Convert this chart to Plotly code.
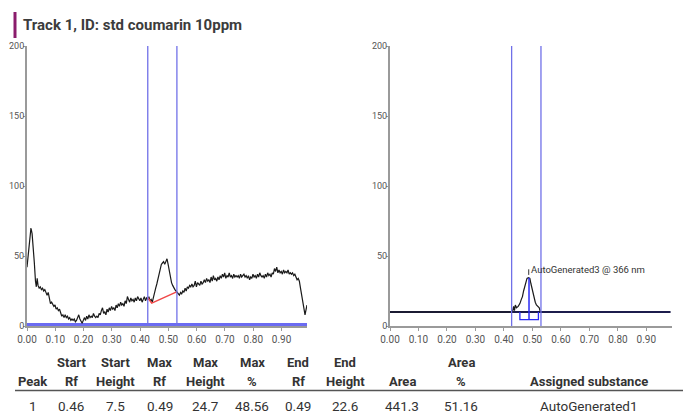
import plotly.graph_objects as go

# page body has an 8px margin; figure sized to fit the window exactly
OFF = 8
W, H = 698 - OFF, 416 - OFF

# ---------------- data ----------------
scan_rf = [0.000, 0.005, 0.010, 0.014, 0.018, 0.022, 0.026, 0.030, 0.033, 0.036, 0.039, 0.043, 0.047, 0.051,
           0.055, 0.059, 0.063, 0.067, 0.071, 0.075, 0.079, 0.083, 0.087, 0.091, 0.095, 0.099, 0.103, 0.107,
           0.111, 0.115, 0.119, 0.123, 0.127, 0.131, 0.135, 0.139, 0.143, 0.147, 0.151, 0.155, 0.159, 0.163,
           0.167, 0.171, 0.175, 0.179, 0.183, 0.187, 0.191, 0.195, 0.199, 0.203, 0.207, 0.211, 0.215, 0.219,
           0.223, 0.227, 0.231, 0.235, 0.239, 0.243, 0.247, 0.251, 0.255, 0.259, 0.263, 0.267, 0.271, 0.275,
           0.279, 0.283, 0.287, 0.291, 0.295, 0.299, 0.303, 0.307, 0.311, 0.315, 0.319, 0.323, 0.327, 0.331,
           0.335, 0.339, 0.343, 0.347, 0.351, 0.355, 0.359, 0.363, 0.367, 0.371, 0.375, 0.379, 0.383, 0.387,
           0.391, 0.395, 0.399, 0.403, 0.407, 0.411, 0.415, 0.419, 0.423, 0.427, 0.431, 0.435, 0.439, 0.443,
           0.447, 0.451, 0.455, 0.459, 0.463, 0.467, 0.471, 0.475, 0.479, 0.483, 0.487, 0.491, 0.495, 0.499,
           0.503, 0.507, 0.511, 0.515, 0.519, 0.523, 0.527, 0.531, 0.535, 0.539, 0.543, 0.547, 0.551, 0.555,
           0.559, 0.563, 0.567, 0.571, 0.575, 0.579, 0.583, 0.587, 0.591, 0.595, 0.599, 0.603, 0.607, 0.611,
           0.615, 0.619, 0.623, 0.627, 0.631, 0.635, 0.639, 0.643, 0.647, 0.651, 0.655, 0.659, 0.663, 0.667,
           0.671, 0.675, 0.679, 0.683, 0.687, 0.691, 0.695, 0.699, 0.703, 0.707, 0.711, 0.715, 0.719, 0.723,
           0.727, 0.731, 0.735, 0.739, 0.743, 0.747, 0.751, 0.755, 0.759, 0.763, 0.767, 0.771, 0.775, 0.779,
           0.783, 0.787, 0.791, 0.795, 0.799, 0.803, 0.807, 0.811, 0.815, 0.819, 0.823, 0.827, 0.831, 0.835,
           0.839, 0.843, 0.847, 0.851, 0.855, 0.859, 0.863, 0.867, 0.871, 0.875, 0.879, 0.883, 0.887, 0.891,
           0.895, 0.899, 0.903, 0.907, 0.911, 0.915, 0.919, 0.923, 0.927, 0.931, 0.935, 0.939, 0.943, 0.947,
           0.951, 0.955, 0.959, 0.963, 0.967, 0.971, 0.975, 0.979, 0.983, 0.987, 0.990]
scan_height = [42, 52, 60, 70, 66, 57, 45, 32, 28, 34, 29, 27, 28, 26,
               27, 25, 26, 24, 22, 24, 20, 16, 17, 15, 14, 15, 12, 13,
               11, 12, 9, 7, 8, 6, 8, 6, 7, 5, 6, 4, 5, 4,
               5, 3, 4, 7, 8, 5, 3, 2, 4, 6, 4, 7, 5, 8,
               6, 7, 6, 9, 7, 6, 7, 6, 9, 8, 11, 13, 9, 10,
               8, 12, 10, 13, 11, 14, 12, 13, 11, 15, 13, 16, 14, 17,
               15, 16, 14, 18, 16, 21, 19, 17, 20, 18, 19, 17, 20, 18,
               21, 19, 18, 20, 17, 19, 21, 18, 20, 19, 21, 18, 19, 17,
               21, 24, 27, 30, 34, 38, 42, 44, 45, 46, 44, 47, 48, 44,
               39, 35, 31, 29, 27, 26, 25, 24, 23, 22, 24, 23, 25, 24,
               27, 25, 28, 27, 29, 28, 30, 28, 29, 32, 28, 31, 30, 29,
               32, 30, 31, 33, 31, 34, 32, 33, 31, 35, 32, 36, 33, 34,
               32, 35, 33, 36, 34, 37, 35, 38, 34, 36, 35, 38, 35, 36,
               34, 37, 35, 36, 35, 36, 34, 37, 35, 36, 37, 35, 36, 34,
               36, 33, 35, 34, 37, 35, 36, 34, 37, 35, 38, 36, 35, 36,
               34, 37, 35, 38, 36, 37, 35, 38, 37, 41, 39, 42, 38, 40,
               38, 39, 37, 40, 38, 39, 38, 40, 37, 38, 37, 38, 36, 37,
               34, 33, 34, 32, 27, 22, 17, 12, 8, 12, 15]

baseline_rf = [0.427, 0.441, 0.529]
baseline_height = [20.2, 16.3, 24.4]

window_rf = [0.427, 0.530]

peak_rf = [0.000, 0.430, 0.434, 0.437, 0.440, 0.444, 0.450, 0.456, 0.461, 0.465, 0.469, 0.473, 0.477,
           0.481, 0.486, 0.491, 0.495, 0.500, 0.505, 0.510, 0.514, 0.519, 0.524, 0.528]
peak_height = [10, 10, 14, 11, 15, 13, 14, 16, 19, 21, 25, 28, 32,
               34, 34.5, 34, 30, 25, 21, 17, 15, 14, 13, 10]

fit_baseline = 10
peak_box_rf = [0.456, 0.488, 0.521]
peak_box_low = 4.5
peak_label = "AutoGenerated3 @ 366 nm"

x_ticks = [0.0, 0.1, 0.2, 0.3, 0.4, 0.5, 0.6, 0.7, 0.8, 0.9]
x_tick_labels = ["0.00", "0.10", "0.20", "0.30", "0.40", "0.50", "0.60", "0.70", "0.80", "0.90"]
y_ticks = [0, 50, 100, 150, 200]

title_text = "Track 1, ID: std coumarin 10ppm"
headers_top = ["", "Start", "Start", "Max", "Max", "Max", "End", "End", "", "Area", ""]
headers_bottom = ["Peak", "Rf", "Height", "Rf", "Height", "%", "Rf", "Height", "Area", "%", "Assigned substance"]
row_values = ["1", "0.46", "7.5", "0.49", "24.7", "48.56", "0.49", "22.6", "441.3", "51.16", "AutoGenerated1"]
col_centers_px = [32.5, 71, 115, 159.5, 205, 252, 298, 345, 402, 461, 588.5]

# ---------------- styling ----------------
FONT = "Roboto, Liberation Sans, sans-serif"
AX_GRAY = "#9a9a9a"
TICK_COLOR = "#555555"
WIN_BLUE = "#7070e8"


def px(x):
    return (x - OFF) / W


def py(y):
    return 1 - (y - OFF) / H


fig = go.Figure()

# left panel
fig.add_trace(go.Scatter(x=[0, 0.99], y=[1, 1], mode="lines",
                         line=dict(color="#6b6bf2", width=3), xaxis="x", yaxis="y", hoverinfo="skip"))
fig.add_trace(go.Scatter(x=scan_rf, y=scan_height, mode="lines",
                         line=dict(color="#1a1a1a", width=1.2), xaxis="x", yaxis="y"))
fig.add_trace(go.Scatter(x=baseline_rf, y=baseline_height, mode="lines",
                         line=dict(color="#f04848", width=1.5), xaxis="x", yaxis="y"))
for r in window_rf:
    fig.add_trace(go.Scatter(x=[r, r], y=[0, 200], mode="lines",
                             line=dict(color=WIN_BLUE, width=1.3), xaxis="x", yaxis="y", hoverinfo="skip"))

# right panel
fig.add_trace(go.Scatter(x=[0, 0.985], y=[fit_baseline, fit_baseline], mode="lines",
                         line=dict(color="#1c1c4c", width=2), xaxis="x2", yaxis="y2"))
fig.add_trace(go.Scatter(x=peak_rf, y=peak_height, mode="lines",
                         line=dict(color="#1a1a1a", width=1.2), xaxis="x2", yaxis="y2"))
for r in window_rf:
    fig.add_trace(go.Scatter(x=[r, r], y=[0, 200], mode="lines",
                             line=dict(color=WIN_BLUE, width=1.3), xaxis="x2", yaxis="y2", hoverinfo="skip"))
box_x = [peak_box_rf[0], peak_box_rf[0], peak_box_rf[2], peak_box_rf[2]]
box_y = [fit_baseline, peak_box_low, peak_box_low, fit_baseline]
fig.add_trace(go.Scatter(x=box_x, y=box_y, mode="lines",
                         line=dict(color="#2a2af5", width=1.3), xaxis="x2", yaxis="y2"))
fig.add_trace(go.Scatter(x=[peak_box_rf[1], peak_box_rf[1]], y=[peak_box_low, max(peak_height)], mode="lines",
                         line=dict(color="#2a2af5", width=1.5), xaxis="x2", yaxis="y2"))
fig.add_trace(go.Scatter(x=[0.487, 0.487], y=[36.5, 40.5], mode="lines",
                         line=dict(color="#333333", width=1), xaxis="x2", yaxis="y2"))
fig.add_annotation(x=0.489, y=40.5, xref="x2", yref="y2", text=peak_label, showarrow=False,
                   xanchor="left", yanchor="middle", font=dict(family=FONT, size=9.5, color="#333333"))

axis_common = dict(showgrid=False, zeroline=False, showline=True, linecolor=AX_GRAY, linewidth=2,
                   ticks="outside", tickcolor=AX_GRAY, tickwidth=1, automargin=False,
                   fixedrange=True)
xfont = dict(family=FONT, size=10, color=TICK_COLOR)
yfont = dict(family=FONT, size=9, color=TICK_COLOR)

xd1 = [px(27), px(307)]
xd2 = [px(390), px(672)]
yd = [py(326), py(46)]

fig.update_layout(
    width=W, height=H, margin=dict(l=0, r=0, t=0, b=0, autoexpand=False),
    paper_bgcolor="white", plot_bgcolor="white", showlegend=False,
    xaxis=dict(domain=xd1, range=[0, 0.99], tickvals=x_ticks, ticktext=x_tick_labels, anchor="y",
               tickfont=xfont, ticklen=3, **axis_common),
    yaxis=dict(domain=yd, range=[0, 200], tickvals=y_ticks, anchor="x", tickfont=yfont,
               ticklen=2, ticklabelstandoff=-3, **axis_common),
    xaxis2=dict(domain=xd2, range=[0, 0.99], tickvals=x_ticks, ticktext=x_tick_labels, anchor="y2",
                tickfont=xfont, ticklen=3, **axis_common),
    yaxis2=dict(domain=yd, range=[0, 200], tickvals=y_ticks, anchor="x2", tickfont=yfont,
                ticklen=2, ticklabelstandoff=-3, **axis_common),
)

# title with purple marker
fig.add_shape(type="rect", xref="paper", yref="paper", x0=px(13.5), x1=px(16.5), y0=py(38), y1=py(12),
              fillcolor="#8b1c6c", line=dict(width=0))
fig.add_annotation(x=px(21), y=py(25), xref="paper", yref="paper", text="<b>" + title_text + "</b>",
                   showarrow=False, xanchor="left", yanchor="middle",
                   font=dict(family=FONT, size=15, color="#3c3c3c"))

# table
for cx, t1, t2, v in zip(col_centers_px, headers_top, headers_bottom, row_values):
    if t1:
        fig.add_annotation(x=px(cx), y=py(362.5), xref="paper", yref="paper", text="<b>" + t1 + "</b>",
                           showarrow=False, xanchor="center", yanchor="middle",
                           font=dict(family=FONT, size=13, color="#333333"))
    fig.add_annotation(x=px(cx), y=py(381), xref="paper", yref="paper", text="<b>" + t2 + "</b>",
                       showarrow=False, xanchor="center", yanchor="middle",
                       font=dict(family=FONT, size=13, color="#333333"))
    fig.add_annotation(x=px(cx), y=py(406), xref="paper", yref="paper", text=v,
                       showarrow=False, xanchor="center", yanchor="middle",
                       font=dict(family=FONT, size=13.5, color="#333333"))

fig.add_shape(type="line", xref="paper", yref="paper", x0=px(15), x1=px(683), y0=py(390.5), y1=py(390.5),
              line=dict(color="#555555", width=1.5))

fig.write_html("out.html")
